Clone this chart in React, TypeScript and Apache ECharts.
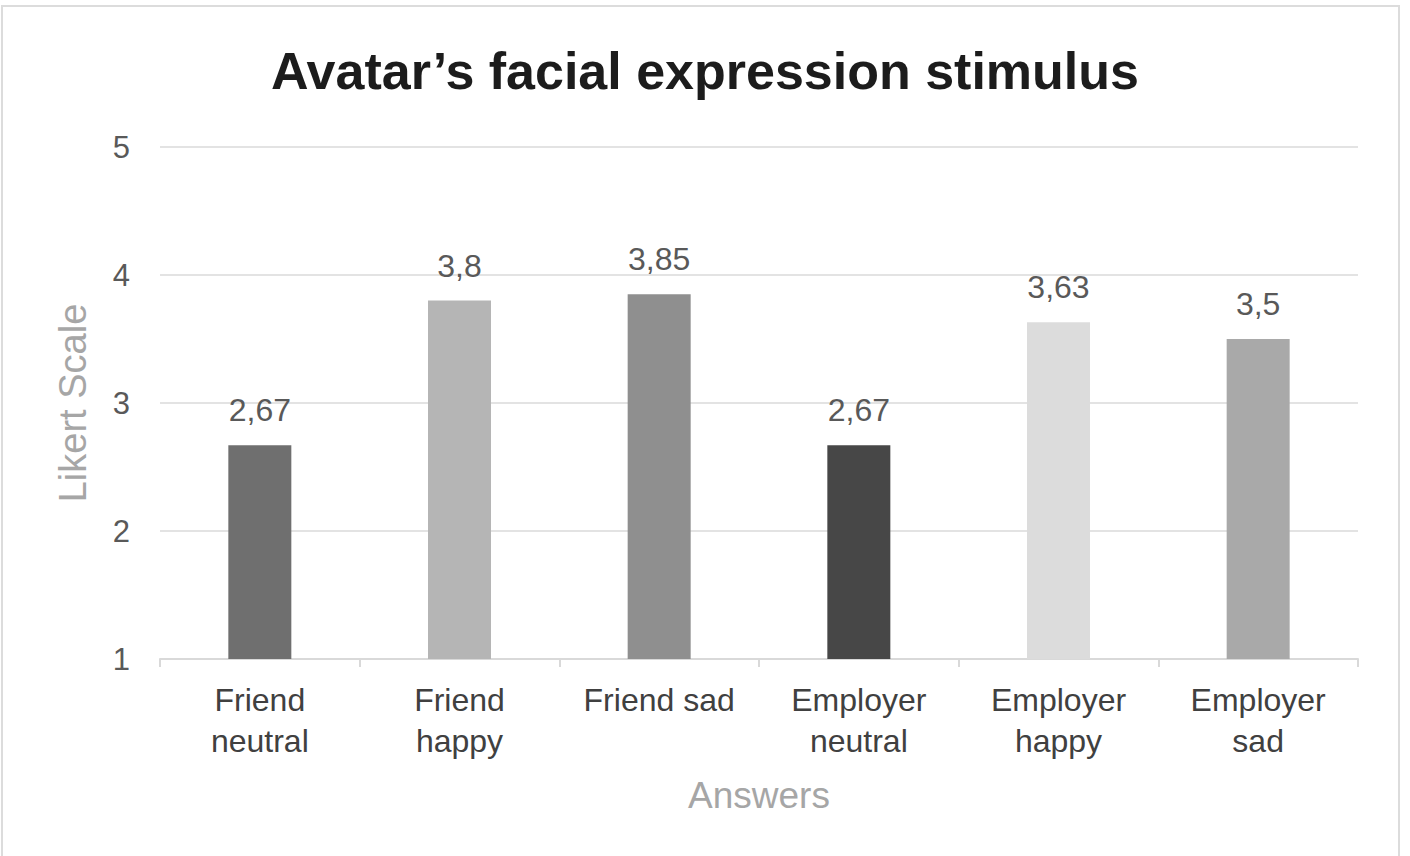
import React, { useEffect, useRef } from "react";
import * as echarts from "echarts";

const categories = [
  "Friend\nneutral",
  "Friend\nhappy",
  "Friend sad",
  "Employer\nneutral",
  "Employer\nhappy",
  "Employer\nsad",
];
const scores = [2.67, 3.8, 3.85, 2.67, 3.63, 3.5];
const barColors = ["#6f6f6f", "#b5b5b5", "#8f8f8f", "#474747", "#dcdcdc", "#a9a9a9"];

const FONT = "'Liberation Sans', Arial, sans-serif";

export default function App() {
  const ref = useRef<HTMLDivElement>(null);

  useEffect(() => {
    document.body.style.margin = "0";
    const chart = echarts.init(ref.current!, null, { renderer: "svg" });
    chart.setOption({
      animation: false,
      backgroundColor: "#ffffff",
      title: {
        text: "Avatar’s facial expression stimulus",
        left: "center",
        top: 40,
        textStyle: { fontFamily: FONT, fontSize: 52, fontWeight: "bold", color: "#1c1c1c" },
      },
      graphic: [
        {
          type: "rect",
          shape: { x: 2, y: 6, width: 1397, height: 860 },
          style: { fill: "none", stroke: "#dcdcdc", lineWidth: 2 },
          silent: true,
        },
      ],
      grid: { left: 160, right: 52, top: 147, bottom: 197 },
      xAxis: {
        type: "category",
        data: categories,
        name: "Answers",
        nameLocation: "middle",
        nameGap: 118,
        nameTextStyle: { fontFamily: FONT, fontSize: 37, color: "#a6a6a6" },
        axisLine: { lineStyle: { color: "#d9d9d9", width: 2 } },
        axisTick: { show: true, length: 8, lineStyle: { color: "#d9d9d9", width: 2 } },
        axisLabel: {
          fontFamily: FONT,
          fontSize: 32,
          color: "#404040",
          lineHeight: 41,
          margin: 20,
          interval: 0,
        },
      },
      yAxis: {
        type: "value",
        min: 1,
        max: 5,
        interval: 1,
        name: "Likert Scale",
        nameLocation: "middle",
        nameGap: 68,
        nameRotate: 90,
        nameTextStyle: { fontFamily: FONT, fontSize: 38, color: "#a6a6a6" },
        axisLine: { show: false },
        axisTick: { show: false },
        axisLabel: { fontFamily: FONT, fontSize: 31, color: "#595959", margin: 30 },
        splitLine: { lineStyle: { color: "#e3e3e3", width: 2 } },
      },
      series: [
        {
          type: "bar",
          data: scores.map((v, i) => ({ value: v, itemStyle: { color: barColors[i] } })),
          barWidth: 63,
          label: {
            show: true,
            position: "top",
            distance: 19,
            fontFamily: FONT,
            fontSize: 32,
            color: "#595959",
            formatter: (p: any) => String(p.value).replace(".", ","),
          },
        },
      ],
    });
    return () => chart.dispose();
  }, []);

  return <div ref={ref} style={{ width: 1410, height: 856 }} />;
}
